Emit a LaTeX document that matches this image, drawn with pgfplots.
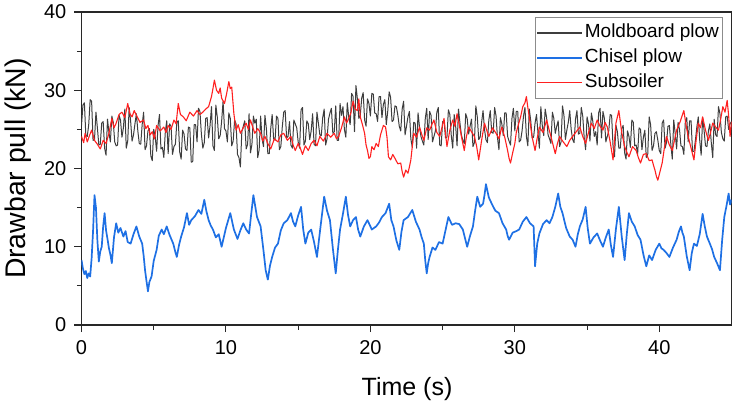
\documentclass[border=0pt]{standalone}
\usepackage{fontspec}
\setmainfont{Liberation Sans}
\usepackage{pgfplots}
\pgfplotsset{compat=1.18}
\usepackage{pgfplotstable}
\definecolor{mbcol}{RGB}{62,62,62}
\definecolor{chcol}{RGB}{30,112,228}
\definecolor{sscol}{RGB}{255,32,32}
\definecolor{framecol}{RGB}{40,40,40}
\definecolor{legframe}{RGB}{140,140,140}

\pgfplotstableread{
t v
0.0 25.5
0.1 28.1
0.2 28.4
0.3 24.2
0.4 24.1
0.5 25.6
0.6 28.8
0.7 28.6
0.8 23.6
0.9 23.7
1.0 27.2
1.1 25.2
1.2 23.0
1.3 23.1
1.4 25.8
1.5 26.0
1.6 22.6
1.7 21.7
1.8 26.3
1.9 24.6
2.0 23.4
2.1 26.7
2.2 25.9
2.3 23.4
2.4 22.9
2.5 23.0
2.6 26.8
2.7 26.2
2.8 24.0
2.9 25.2
3.0 27.6
3.1 22.6
3.2 23.5
3.3 27.8
3.4 26.1
3.5 23.5
3.6 24.3
3.7 25.7
3.8 27.0
3.9 24.8
4.0 23.2
4.1 23.1
4.2 25.6
4.3 27.2
4.4 22.4
4.5 22.9
4.6 24.8
4.7 25.1
4.8 21.6
4.9 21.0
5.0 25.0
5.1 24.1
5.2 22.2
5.3 25.5
5.4 26.9
5.5 22.5
5.6 22.7
5.7 21.4
5.8 24.6
5.9 26.1
6.0 21.9
6.1 25.7
6.2 25.4
6.3 21.8
6.4 22.8
6.5 23.1
6.6 25.9
6.7 26.1
6.8 22.1
6.9 21.2
7.0 24.9
7.1 24.4
7.2 22.5
7.3 22.3
7.4 25.3
7.5 25.2
7.6 20.8
7.7 20.9
7.8 25.6
7.9 25.6
8.0 23.4
8.1 27.7
8.2 27.3
8.3 24.4
8.4 22.6
8.5 23.3
8.6 26.4
8.7 26.5
8.8 23.9
8.9 25.5
9.0 27.9
9.1 22.9
9.2 22.3
9.3 28.1
9.4 26.6
9.5 23.8
9.6 24.2
9.7 26.0
9.8 28.6
9.9 25.1
10.0 24.8
10.1 23.4
10.2 27.1
10.3 26.4
10.4 22.9
10.5 23.5
10.6 26.2
10.7 25.7
10.8 21.8
10.9 21.4
11.0 20.2
11.1 24.7
11.2 25.4
11.3 26.1
11.4 22.5
11.5 23.1
11.6 27.0
11.7 22.0
11.8 23.1
11.9 26.7
12.0 25.8
12.1 26.3
12.2 21.4
12.3 22.4
12.4 26.7
12.5 23.8
12.6 22.8
12.7 26.8
12.8 25.1
12.9 21.9
13.0 21.9
13.1 25.1
13.2 26.9
13.3 23.8
13.4 23.6
13.5 26.7
13.6 26.4
13.7 22.4
13.8 22.8
13.9 25.3
14.0 27.2
14.1 27.4
14.2 23.9
14.3 24.1
14.4 26.0
14.5 23.0
14.6 22.6
14.7 26.2
14.8 25.7
14.9 25.2
15.0 23.4
15.1 22.6
15.2 27.5
15.3 27.8
15.4 23.0
15.5 23.5
15.6 26.1
15.7 25.7
15.8 23.7
15.9 24.8
16.0 27.0
16.1 23.1
16.2 22.9
16.3 27.2
16.4 25.8
16.5 24.3
16.6 24.2
16.7 26.5
16.8 27.6
16.9 23.0
17.0 23.8
17.1 26.3
17.2 27.1
17.3 27.7
17.4 24.5
17.5 24.7
17.6 28.0
17.7 23.6
17.8 23.6
17.9 28.3
18.0 26.8
18.1 27.9
18.2 25.0
18.3 24.0
18.4 28.4
18.5 26.6
18.6 25.6
18.7 29.6
18.8 29.2
18.9 24.7
19.0 30.6
19.1 28.9
19.2 26.4
19.3 26.8
19.4 29.0
19.5 29.7
19.6 26.2
19.7 25.4
19.8 28.9
19.9 28.3
20.0 26.7
20.1 29.6
20.2 29.5
20.3 27.1
20.4 27.0
20.5 26.0
20.6 29.2
20.7 29.2
20.8 26.5
20.9 28.2
21.0 28.8
21.1 25.6
21.2 27.3
21.3 29.8
21.4 29.1
21.5 26.0
21.6 26.2
21.7 28.0
21.8 27.9
21.9 26.8
22.0 25.4
22.1 24.8
22.2 27.6
22.3 28.6
22.4 24.3
22.5 25.4
22.6 26.6
22.7 27.3
22.8 23.8
22.9 22.7
23.0 25.9
23.1 25.8
23.2 22.6
23.3 27.1
23.4 25.3
23.5 24.1
23.6 23.5
23.7 23.0
23.8 26.4
23.9 27.7
24.0 23.7
24.1 27.3
24.2 26.8
24.3 23.4
24.4 24.1
24.5 24.8
24.6 27.2
24.7 27.8
24.8 23.0
24.9 22.9
25.0 26.0
25.1 26.1
25.2 23.9
25.3 24.0
25.4 27.5
25.5 26.9
25.6 24.2
25.7 22.6
25.8 26.9
25.9 25.5
26.0 22.9
26.1 27.6
26.2 25.8
26.3 24.3
26.4 23.6
26.5 23.2
26.6 27.0
26.7 26.4
26.8 24.4
26.9 25.4
27.0 26.3
27.1 22.8
27.2 23.3
27.3 28.0
27.4 26.6
27.5 23.7
27.6 24.0
27.7 25.9
27.8 27.4
27.9 25.0
28.0 23.7
28.1 23.3
28.2 26.2
28.3 27.4
28.4 24.6
28.5 24.5
28.6 27.8
28.7 26.7
28.8 23.9
28.9 22.4
29.0 26.5
29.1 25.7
29.2 24.2
29.3 27.1
29.4 27.1
29.5 24.1
29.6 23.5
29.7 23.0
29.8 26.4
29.9 27.7
30.0 24.8
30.1 27.3
30.2 27.3
30.3 23.4
30.4 23.6
30.5 24.8
30.6 26.7
30.7 27.8
30.8 24.1
30.9 22.9
31.0 27.6
31.1 26.1
31.2 23.9
31.3 24.0
31.4 25.8
31.5 26.9
31.6 24.6
31.7 22.6
31.8 27.9
31.9 25.5
32.0 24.2
32.1 27.6
32.2 26.5
32.3 24.3
32.4 23.8
32.5 23.2
32.6 27.2
32.7 26.4
32.8 24.5
32.9 25.4
33.0 26.1
33.1 22.8
33.2 23.4
33.3 28.0
33.4 26.8
33.5 23.7
33.6 24.9
33.7 25.9
33.8 27.4
33.9 25.0
34.0 23.7
34.1 23.3
34.2 26.3
34.3 27.4
34.4 24.4
34.5 24.5
34.6 27.8
34.7 26.7
34.8 24.0
34.9 22.4
35.0 26.6
35.1 25.7
35.2 23.5
35.3 27.1
35.4 26.0
35.5 24.1
35.6 24.7
35.7 23.0
35.8 27.1
35.9 27.7
36.0 23.9
36.1 27.3
36.2 26.4
36.3 23.4
36.4 24.1
36.5 24.8
36.6 26.9
36.7 26.8
36.8 22.8
36.9 21.5
37.0 25.5
37.1 24.7
37.2 22.6
37.3 22.6
37.4 25.1
37.5 25.5
37.6 22.0
37.7 21.2
37.8 24.8
37.9 24.1
38.0 22.7
38.1 26.2
38.2 25.9
38.3 22.9
38.4 23.0
38.5 21.8
38.6 25.2
38.7 25.0
38.8 22.4
38.9 24.0
39.0 24.9
39.1 21.4
39.2 21.8
39.3 26.6
39.4 25.6
39.5 22.3
39.6 22.9
39.7 24.5
39.8 24.7
39.9 23.6
40.0 22.3
40.1 21.9
40.2 25.8
40.3 26.2
40.4 22.6
40.5 23.3
40.6 25.4
40.7 25.5
40.8 23.1
40.9 21.2
41.0 26.2
41.1 24.5
41.2 22.5
41.3 25.9
41.4 25.0
41.5 22.9
41.6 22.8
41.7 21.8
41.8 25.9
41.9 26.5
42.0 23.4
42.1 26.1
42.2 26.1
42.3 22.2
42.4 22.2
42.5 23.6
42.6 25.3
42.7 26.6
42.8 23.6
42.9 21.7
43.0 26.5
43.1 24.9
43.2 22.9
43.3 22.8
43.4 24.8
43.5 25.7
43.6 23.3
43.7 21.4
43.8 26.3
43.9 24.3
44.0 24.1
44.1 27.9
44.2 27.0
44.3 24.6
44.4 23.8
44.5 23.5
44.6 26.6
44.7 26.7
44.8 25.0
44.9 25.7
45.0 26.0
}\moldboard

\pgfplotstableread{
t v
0 8.3
0.1 7.2
0.2 6.5
0.3 6.9
0.4 6.0
0.5 6.6
0.6 6.2
0.7 8.5
0.8 12
0.9 16.6
1.0 15
1.1 10.8
1.2 8.1
1.3 9.4
1.4 10
1.5 12.6
1.6 14.3
1.7 12.1
1.8 11
1.9 9.8
2.0 9
2.1 7.9
2.25 11.2
2.4 13
2.55 11.8
2.7 12.4
2.9 11.3
3.05 12.0
3.2 10.6
3.4 10.4
3.6 11.6
3.8 12.6
4.0 11.3
4.2 10.4
4.3 8.9
4.4 7
4.5 5.6
4.6 4.3
4.7 5.5
4.85 6.2
5.0 8.2
5.2 9.6
5.35 11.4
5.55 12.2
5.7 11.6
5.9 12.6
6.1 11.5
6.35 10.4
6.5 9.3
6.6 8.7
6.75 10.2
6.9 11.3
7.1 12.5
7.3 14.3
7.45 12.8
7.6 13.4
7.85 13.9
8.1 14.7
8.3 14.2
8.5 16
8.65 14.5
8.8 13.4
8.95 12.7
9.1 12.2
9.3 11.2
9.5 11.6
9.7 10
10.0 12.4
10.3 14.3
10.55 12.2
10.8 11
11.0 12.1
11.2 13
11.4 12.2
11.6 11.7
11.75 14.2
11.9 16.6
12.15 13.8
12.4 12.6
12.6 9.5
12.75 7
12.9 5.8
13.05 7.6
13.2 8.7
13.4 9.9
13.6 10.4
13.8 12.1
14.0 13
14.25 13.4
14.5 14.3
14.65 13.2
14.8 12.6
15.0 14.0
15.2 15.1
15.35 12.2
15.5 10.4
15.7 11.8
15.9 12.2
16.1 10.6
16.3 8.7
16.55 12.6
16.8 16.4
17.0 14.6
17.2 13.4
17.4 9.8
17.6 6.6
17.75 9.6
17.9 12.2
18.1 14.2
18.3 16.4
18.45 14.1
18.6 12.6
18.8 13.4
19.0 13.8
19.15 12.2
19.3 11.3
19.55 12.6
19.8 13.4
20.1 12.2
20.4 12.6
20.6 13.1
20.8 13.8
21.05 14.3
21.3 15.5
21.45 13.4
21.6 12.6
21.8 10.8
22.0 9.6
22.15 11.9
22.3 13.4
22.6 13.8
22.9 14.7
23.15 13.2
23.4 12.2
23.55 11.2
23.7 10.4
23.8 8.2
23.9 6.6
24.0 7.9
24.1 8.7
24.3 9.9
24.5 9.6
24.75 10.6
25.0 10.4
25.2 12.1
25.4 13.8
25.65 12.8
25.9 13
26.15 12.9
26.4 12.2
26.55 11.1
26.7 10
26.9 11.4
27.1 12.6
27.25 14.6
27.4 16.4
27.6 15.1
27.8 15.5
27.9 16.6
28.0 18
28.2 16.3
28.4 15.5
28.65 14.6
28.9 14.3
29.15 13.0
29.4 12.2
29.5 11.4
29.6 10.9
29.85 11.8
30.1 12
30.3 12.2
30.55 13.2
30.8 13.8
31.05 13.0
31.3 12.6
31.4 7.5
31.55 10.4
31.7 11.7
31.95 12.9
32.2 13.4
32.4 13.0
32.6 13.8
32.8 15.1
33.0 16.8
33.15 15.1
33.3 14.3
33.55 12.4
33.8 11.3
34.0 10.9
34.2 10
34.35 11.5
34.5 12.6
34.7 13.5
34.9 15.1
35.05 12.3
35.2 10.4
35.45 11.2
35.7 11.7
35.9 10.8
36.1 10
36.3 11.2
36.5 12.2
36.65 10.2
36.8 8.7
37.0 12.3
37.2 15.1
37.4 11.3
37.6 8.3
37.75 11.6
37.9 14.3
38.1 13.2
38.3 12.6
38.5 11.5
38.7 10.9
38.9 9.0
39.1 7.5
39.3 8.9
39.5 8.3
39.75 9.6
40.0 10.4
40.15 9.8
40.3 9.6
40.5 9.2
40.7 8.7
40.95 9.9
41.2 10.9
41.35 11.9
41.5 12.6
41.6 11.8
41.7 11.3
41.9 8.8
42.1 7
42.25 9.2
42.4 10.4
42.6 10.1
42.8 11.6
43.0 14.2
43.15 12.6
43.3 11.3
43.5 10.4
43.65 9.7
43.8 8.7
44.0 7.9
44.2 7
44.35 10.8
44.5 13.8
44.65 15.2
44.8 16.8
44.9 15.4
45 16
}\chisel

\pgfplotstableread{
t v
0 24.1
0.15 23.3
0.25 24.5
0.4 23.4
0.55 24.2
0.7 24.9
0.9 23.6
1.1 23.1
1.3 22.5
1.5 23.6
1.7 23.2
1.9 24.5
2.1 26.4
2.25 25.2
2.4 25.8
2.6 26.9
2.8 27.2
3.0 26.5
3.2 28.3
3.35 27.0
3.5 26.6
3.65 27.4
3.8 26.8
4.05 25.9
4.3 26.2
4.45 25.1
4.6 25.5
4.75 24.3
4.9 24.7
5.05 23.8
5.2 25.5
5.45 24.8
5.7 25.3
5.85 24.6
6.0 25.5
6.2 25.0
6.4 26.2
6.55 25.7
6.7 28.3
6.85 26.9
7.05 26.6
7.25 26.1
7.5 27.2
7.75 26.7
8.0 27.4
8.2 26.9
8.4 27.2
8.6 27.6
8.8 27.9
9.0 29.2
9.1 30.2
9.2 31.3
9.35 30.0
9.5 29.6
9.6 30.3
9.7 29.0
9.9 28.3
10.05 29.6
10.2 31.1
10.3 30.2
10.4 30.4
10.55 27.0
10.7 24.9
10.85 25.6
11.0 24.5
11.2 25.2
11.4 25.8
11.55 25.0
11.7 26.2
11.85 25.3
12.0 24.5
12.2 25.1
12.4 24.5
12.55 23.5
12.7 24.1
12.9 23.2
13.1 22.5
13.35 23.8
13.6 23.4
13.8 24.3
14.0 24.5
14.25 23.6
14.5 24.1
14.65 23.0
14.8 22.3
15.0 23.2
15.15 22.6
15.3 21.8
15.5 22.9
15.7 22.3
15.9 23.2
16.1 23.6
16.3 22.9
16.5 24.1
16.75 23.5
17.0 24.5
17.25 24.0
17.5 24.5
17.65 23.8
17.8 24.1
18.0 25.2
18.2 26.6
18.35 25.8
18.5 26.4
18.65 27.1
18.8 28.6
18.95 27.6
19.1 27.4
19.2 28.9
19.3 26.6
19.45 25.6
19.6 24.5
19.7 23.0
19.8 22.3
19.9 21.3
20.0 21.5
20.1 22.8
20.25 22.4
20.4 23.2
20.55 22.8
20.7 24.3
20.9 25.5
21.05 25.3
21.15 24.0
21.25 21.5
21.4 21.1
21.55 21.8
21.7 21.3
21.9 20.6
22.1 20.7
22.2 19.6
22.3 18.9
22.45 19.8
22.6 19.4
22.7 20.2
22.8 21.1
22.9 22.8
23.0 24.5
23.2 24.0
23.4 25.3
23.55 24.4
23.7 23.6
23.9 25.2
24.1 24.9
24.25 25.6
24.4 26.2
24.6 24.6
24.8 24.1
24.95 25.2
25.1 26.4
25.2 24.5
25.3 22.8
25.5 24.9
25.7 26.2
25.85 25.4
26.0 27.0
26.15 25.6
26.3 24.1
26.4 23.2
26.5 22.3
26.65 24.1
26.8 25.3
27.0 24.7
27.2 24.1
27.35 22.9
27.5 21.1
27.7 23.6
27.9 25.8
28.05 24.9
28.2 24.1
28.45 25.2
28.7 24.5
28.9 23.8
29.1 25.3
29.3 24.0
29.5 22.3
29.6 21.3
29.7 20.7
29.85 22.0
30.0 23.2
30.1 24.6
30.2 25.3
30.4 26.6
30.55 27.9
30.7 28.4
30.8 29.2
30.9 27.8
31.0 26.6
31.2 24.0
31.4 22.3
31.55 23.9
31.7 25.3
31.95 24.6
32.2 26.2
32.35 25.1
32.5 24.1
32.65 23.0
32.8 21.9
32.95 23.2
33.1 24.1
33.35 23.4
33.6 22.8
33.8 23.6
34.0 24.1
34.25 24.7
34.5 25.3
34.7 24.1
34.9 23.2
35.1 24.6
35.3 25.8
35.5 25.1
35.7 26.2
35.9 25.4
36.1 24.9
36.25 25.9
36.4 25.3
36.6 23.4
36.8 21.1
36.9 23.6
37.0 25.8
37.1 26.6
37.2 27.4
37.4 24.6
37.6 22.8
37.75 22.1
37.9 21.5
38.15 22.8
38.4 22.3
38.55 21.4
38.7 20.7
38.9 21.8
39.1 21.9
39.3 21.0
39.5 21.1
39.6 20.4
39.7 19.8
39.8 19.0
39.9 18.5
40.05 19.6
40.2 20.7
40.35 22.6
40.5 24.1
40.7 23.0
40.9 22.3
41.05 23.6
41.2 24.9
41.45 26.0
41.7 27.4
41.85 25.6
42.0 24.1
42.2 22.6
42.4 21.1
42.55 23.6
42.7 25.8
42.85 25.2
43.0 26.6
43.2 24.9
43.4 23.6
43.55 24.6
43.7 25.8
43.9 25.3
44.1 24.9
44.25 26.3
44.4 27.9
44.55 27.2
44.7 28.7
44.8 26.8
44.9 24.1
45 26
}\subsoiler

\begin{document}
\begin{tikzpicture}
\path[use as bounding box] (-81.5pt,-77pt) rectangle (653.5pt,325pt);
\begin{axis}[
  at={(0pt,0pt)}, anchor=south west,
  width=650pt, height=313pt, scale only axis,
  xmin=0, xmax=45, ymin=0, ymax=40,
  xtick={0,10,20,30,40}, ytick={0,10,20,30,40},
  minor x tick num=1, minor y tick num=1,
  tick align=outside, tick pos=left,
  major tick length=7pt, minor tick length=4.5pt,
  every tick/.style={line width=1.1pt, framecol},
  axis line style={line width=1.3pt, framecol},
  /pgf/number format/assume math mode=true,
  tick label style={font=\fontsize{20}{24}\selectfont, color=black},
  xticklabel style={anchor=base, inner sep=0pt, yshift=-22pt},
  yticklabel style={anchor=east, inner sep=0pt, xshift=-8pt},
  xlabel={Time (s)},
  ylabel={Drawbar pull (kN)},
  xlabel style={font=\fontsize{25}{29}\selectfont, at={(axis description cs:0.5008,0)}, anchor=base, yshift=-70pt, inner sep=0pt},
  ylabel style={font=\fontsize{28.4}{32}\selectfont, at={(axis description cs:-0.0869,0.5)}, anchor=base, inner sep=0pt},
  legend style={
    at={(rel axis cs:0.986,0.984)}, anchor=north east,
    draw=legframe, line width=0.8pt,
    font=\fontsize{19}{22}\selectfont,
    inner xsep=1pt, inner ysep=3.5pt,
    row sep=0.8pt,
    nodes={inner sep=2pt, text height=15pt, text depth=5pt},
  },
  legend cell align=left,
  legend image code/.code={\draw[#1, line width=1.6pt] (0pt,0pt) -- (45pt,0pt);},
  clip=true,
]
\addplot[mbcol, line width=1.0pt, line join=round] table[x=t, y=v] {\moldboard};
\addlegendentry{Moldboard plow}
\addplot[chcol, line width=1.7pt, line join=round] table[x=t, y=v] {\chisel};
\addlegendentry{Chisel plow}
\addplot[sscol, line width=1.1pt, line join=round] table[x=t, y=v] {\subsoiler};
\addlegendentry{Subsoiler}
\end{axis}
\end{tikzpicture}
\end{document}
